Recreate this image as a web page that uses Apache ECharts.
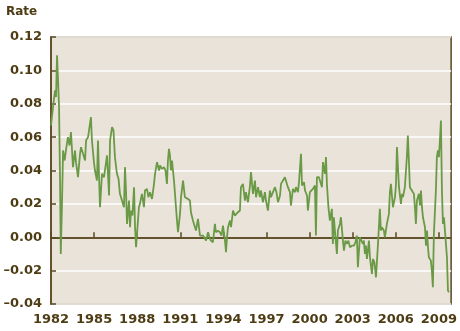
<!DOCTYPE html>
<html>
<head>
<meta charset="utf-8">
<script src="https://cdn.jsdelivr.net/npm/echarts@6/dist/echarts.min.js"></script>
<style>
  html, body { margin: 0; padding: 0; background: #ffffff; }
  #chart { width: 460px; height: 331px; }
</style>
</head>
<body>
<div id="chart"></div>
<script>
// Observation dates (decimal years) and the rate at each date
const dates = [
  1982.00, 1982.14, 1982.28, 1982.35, 1982.42, 1982.49, 1982.56, 1982.63, 1982.68, 1982.77,
  1982.84, 1982.95, 1983.04, 1983.18, 1983.29, 1983.39, 1983.53, 1983.67, 1983.74, 1983.88,
  1984.02, 1984.09, 1984.23, 1984.37, 1984.44, 1984.58, 1984.68, 1984.78, 1984.85, 1984.99,
  1985.06, 1985.20, 1985.27, 1985.41, 1985.55, 1985.69, 1985.79, 1985.90, 1986.04, 1986.11,
  1986.25, 1986.35, 1986.45, 1986.59, 1986.70, 1986.80, 1986.94, 1987.08, 1987.15, 1987.22,
  1987.29, 1987.43, 1987.50, 1987.57, 1987.67, 1987.78, 1987.85, 1987.92, 1988.02, 1988.12,
  1988.19, 1988.33, 1988.47, 1988.54, 1988.68, 1988.78, 1988.89, 1989.03, 1989.17, 1989.24,
  1989.38, 1989.52, 1989.59, 1989.72, 1989.86, 1989.97, 1990.07, 1990.14, 1990.21, 1990.28,
  1990.35, 1990.42, 1990.56, 1990.70, 1990.77, 1990.84, 1990.98, 1991.05, 1991.19, 1991.32,
  1991.43, 1991.53, 1991.67, 1991.74, 1991.88, 1992.02, 1992.09, 1992.23, 1992.37, 1992.44,
  1992.58, 1992.68, 1992.79, 1992.93, 1993.03, 1993.13, 1993.27, 1993.41, 1993.48, 1993.62,
  1993.76, 1993.87, 1993.97, 1994.11, 1994.18, 1994.25, 1994.32, 1994.46, 1994.53, 1994.67,
  1994.80, 1994.87, 1995.01, 1995.15, 1995.22, 1995.36, 1995.50, 1995.57, 1995.71, 1995.85,
  1995.92, 1996.06, 1996.20, 1996.27, 1996.41, 1996.54, 1996.61, 1996.75, 1996.89, 1996.96,
  1997.10, 1997.24, 1997.31, 1997.45, 1997.59, 1997.69, 1997.80, 1997.94, 1998.01, 1998.14,
  1998.28, 1998.35, 1998.49, 1998.63, 1998.70, 1998.84, 1998.98, 1999.05, 1999.19, 1999.26,
  1999.40, 1999.47, 1999.61, 1999.68, 1999.82, 1999.88, 2000.02, 2000.09, 2000.23, 2000.37,
  2000.44, 2000.51, 2000.65, 2000.72, 2000.86, 2000.93, 2001.07, 2001.14, 2001.21, 2001.31,
  2001.41, 2001.55, 2001.62, 2001.69, 2001.76, 2001.90, 2001.97, 2002.11, 2002.18, 2002.32,
  2002.39, 2002.49, 2002.60, 2002.70, 2002.81, 2002.95, 2003.09, 2003.19, 2003.29, 2003.36,
  2003.50, 2003.57, 2003.71, 2003.78, 2003.85, 2003.92, 2003.99, 2004.13, 2004.20, 2004.34,
  2004.41, 2004.51, 2004.62, 2004.76, 2004.89, 2004.96, 2005.03, 2005.17, 2005.24, 2005.38,
  2005.52, 2005.59, 2005.66, 2005.80, 2005.94, 2006.01, 2006.08, 2006.22, 2006.36, 2006.43,
  2006.50, 2006.63, 2006.77, 2006.84, 2006.91, 2006.98, 2007.12, 2007.26, 2007.33, 2007.40,
  2007.47, 2007.61, 2007.68, 2007.75, 2007.82, 2007.89, 2008.03, 2008.10, 2008.17, 2008.24,
  2008.30, 2008.44, 2008.51, 2008.58, 2008.65, 2008.79, 2008.86, 2008.93, 2009.00, 2009.07,
  2009.14, 2009.21, 2009.28, 2009.35, 2009.42, 2009.56, 2009.63, 2009.70
];
const rates = [
  0.067, 0.078, 0.088, 0.084, 0.109, 0.094, 0.078, 0.034, -0.010, 0.022,
  0.052, 0.046, 0.052, 0.060, 0.055, 0.063, 0.042, 0.052, 0.045, 0.036,
  0.050, 0.054, 0.050, 0.046, 0.058, 0.060, 0.066, 0.072, 0.058, 0.045,
  0.040, 0.034, 0.058, 0.018, 0.038, 0.036, 0.037, 0.049, 0.025, 0.058,
  0.066, 0.064, 0.048, 0.038, 0.035, 0.026, 0.022, 0.018, 0.042, 0.028,
  0.008, 0.022, 0.006, 0.016, 0.013, 0.030, 0.006, -0.006, 0.006, 0.018,
  0.020, 0.026, 0.018, 0.028, 0.029, 0.024, 0.027, 0.023, 0.032, 0.038,
  0.045, 0.040, 0.043, 0.041, 0.042, 0.040, 0.032, 0.046, 0.053, 0.049,
  0.040, 0.046, 0.034, 0.018, 0.010, 0.003, 0.014, 0.024, 0.034, 0.024,
  0.023, 0.023, 0.022, 0.015, 0.010, 0.006, 0.004, 0.011, 0.001, 0.000,
  0.001, 0.002, -0.002, 0.003, 0.000, -0.002, -0.003, 0.008, 0.003, 0.004,
  0.003, 0.001, 0.007, -0.002, -0.009, 0.000, 0.006, 0.010, 0.006, 0.016,
  0.013, 0.012, 0.015, 0.016, 0.030, 0.032, 0.022, 0.027, 0.021, 0.031,
  0.039, 0.026, 0.034, 0.024, 0.030, 0.024, 0.028, 0.021, 0.027, 0.022,
  0.016, 0.028, 0.024, 0.027, 0.030, 0.027, 0.021, 0.025, 0.032, 0.033,
  0.036, 0.037, 0.030, 0.027, 0.019, 0.029, 0.027, 0.030, 0.027, 0.033,
  0.050, 0.031, 0.033, 0.028, 0.025, 0.016, 0.027, 0.028, 0.029, 0.031,
  0.001, 0.036, 0.036, 0.037, 0.030, 0.045, 0.038, 0.048, 0.031, 0.018,
  0.010, 0.017, -0.004, 0.012, 0.004, -0.010, 0.004, 0.008, 0.012, -0.002,
  -0.008, -0.002, -0.004, -0.002, -0.006, -0.005, -0.005, -0.003, 0.001, -0.018,
  0.000, 0.000, -0.004, -0.002, -0.010, -0.005, -0.013, -0.002, -0.012, -0.022,
  -0.013, -0.015, -0.024, -0.004, 0.017, 0.004, 0.006, 0.004, 0.000, 0.008,
  0.014, 0.027, 0.032, 0.018, 0.024, 0.031, 0.054, 0.030, 0.020, 0.026,
  0.024, 0.030, 0.048, 0.061, 0.046, 0.030, 0.028, 0.026, 0.018, 0.008,
  0.022, 0.026, 0.019, 0.028, 0.018, 0.012, 0.006, -0.005, 0.004, -0.006,
  -0.012, -0.014, -0.020, -0.030, 0.002, 0.028, 0.048, 0.052, 0.048, 0.058,
  0.070, 0.028, 0.008, 0.012, 0.004, -0.012, -0.032, -0.033
];
const yearTicks = [1982, 1985, 1988, 1991, 1994, 1997, 2000, 2003, 2006, 2009];
const rateTicks = [-0.04, -0.02, 0.00, 0.02, 0.04, 0.06, 0.08, 0.10, 0.12];

const ink = '#4e3d14';
const frame = '#5a4820';
const font = 'DejaVu Sans';

const chart = echarts.init(document.getElementById('chart'), null, { renderer: 'canvas' });

chart.setOption({
  animation: false,
  backgroundColor: '#ffffff',
  title: {
    text: 'Rate',
    left: 1, top: 1,
    textStyle: { fontFamily: font, fontWeight: 'bold', fontSize: 12, color: ink }
  },
  grid: {
    left: 51, right: 8, top: 37, bottom: 27,
    show: true,
    backgroundColor: '#e9e3d9',
    borderColor: frame,
    borderWidth: 1.5
  },
  xAxis: {
    type: 'value',
    min: yearTicks[0],
    max: 2009.85,
    interval: 3,
    axisLine: { show: true, lineStyle: { color: frame, width: 1.5 } },
    axisTick: { show: true, inside: true, length: 5, lineStyle: { color: frame, width: 1.5 } },
    axisLabel: {
      margin: 9,
      showMaxLabel: false,
      fontFamily: font, fontWeight: 'bold', fontSize: 13, color: ink,
      formatter: v => yearTicks.includes(v) ? String(v) : ''
    },
    splitLine: { show: false }
  },
  yAxis: {
    type: 'value',
    min: rateTicks[0],
    max: rateTicks[rateTicks.length - 1],
    interval: 0.02,
    axisLine: { show: true, lineStyle: { color: frame, width: 1.5 } },
    axisTick: { show: true, inside: true, length: 5, lineStyle: { color: frame, width: 1.5 } },
    axisLabel: {
      margin: 9,
      fontFamily: font, fontWeight: 'bold', fontSize: 13, color: ink,
      formatter: v => (v < 0 ? '\u2013' : '') + Math.abs(v).toFixed(2)
    },
    splitLine: { show: true, lineStyle: { color: '#ffffff', width: 1.5 } }
  },
  series: [{
    type: 'line',
    data: dates.map((d, i) => [d, rates[i]]),
    showSymbol: false,
    lineStyle: { color: '#6b9a47', width: 1.8 },
    z: 3,
    markLine: {
      silent: true,
      symbol: 'none',
      label: { show: false },
      lineStyle: { color: frame, width: 1.5, type: 'solid' },
      data: [{ yAxis: 0 }],
      z: 2
    }
  }]
});
</script>
</body>
</html>
